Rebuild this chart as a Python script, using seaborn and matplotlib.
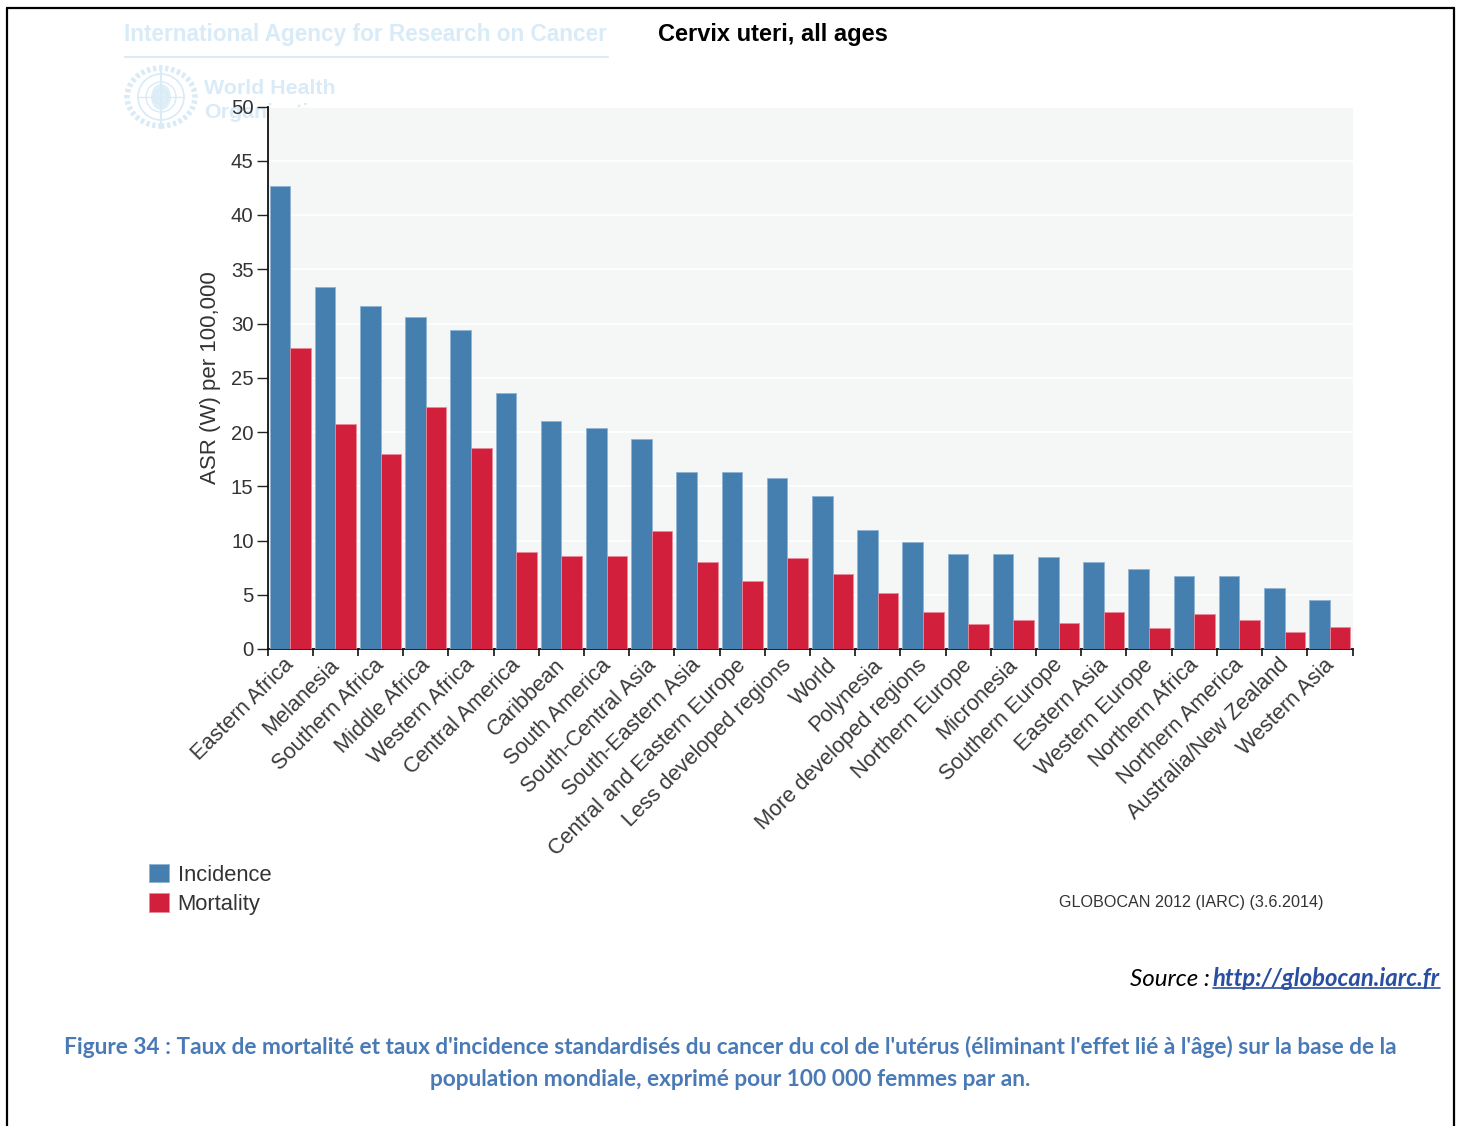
import numpy as np
import pandas as pd
import matplotlib
matplotlib.use("Agg")
import matplotlib.pyplot as plt
from matplotlib.lines import Line2D
from matplotlib.patches import Ellipse, Rectangle
from matplotlib.transforms import ScaledTranslation
import seaborn as sns

regions = ["Eastern Africa", "Melanesia", "Southern Africa", "Middle Africa", "Western Africa",
           "Central America", "Caribbean", "South America", "South-Central Asia", "South-Eastern Asia",
           "Central and Eastern Europe", "Less developed regions", "World", "Polynesia",
           "More developed regions", "Northern Europe", "Micronesia", "Southern Europe", "Eastern Asia",
           "Western Europe", "Northern Africa", "Northern America", "Australia/New Zealand", "Western Asia"]
incidence = [42.7, 33.4, 31.6, 30.6, 29.4, 23.6, 21.0, 20.4, 19.4, 16.3, 16.3, 15.8,
             14.1, 11.0, 9.9, 8.8, 8.8, 8.5, 8.0, 7.4, 6.7, 6.7, 5.6, 4.5]
mortality = [27.7, 20.7, 18.0, 22.3, 18.5, 8.9, 8.6, 8.6, 10.9, 8.0, 6.3, 8.4,
             6.9, 5.2, 3.4, 2.3, 2.7, 2.4, 3.4, 1.9, 3.2, 2.7, 1.6, 2.0]
y_ticks = list(range(0, 55, 5))

W, H = 1460, 1126
BLUE, RED = "#457fb0", "#d21f3c"
PALE = "#d8ebf6"
CAP = "#4a7ab5"

sns.set_theme(style="white")
plt.rcParams["font.family"] = ["Liberation Sans", "DejaVu Sans"]

def fx(x): return x / W
def fy(y): return 1 - y / H

fig = plt.figure(figsize=(W / 100, H / 100), dpi=100, facecolor="white")

# Page frame (open at the bottom)
for xs, ys in [((7, 7), (1126, 8)), ((7, 1454), (8, 8)), ((1454, 1454), (8, 1126))]:
    fig.add_artist(Line2D([fx(v) for v in xs], [fy(v) for v in ys], color="black", lw=1.6))

# Faded watermark header, lying beneath the plot area
fig.text(fx(124), fy(35), "International Agency for Research on Cancer", color=PALE, fontsize=16.3,
         fontweight="bold", va="center", ha="left", zorder=-2)
fig.add_artist(Line2D([fx(125), fx(608)], [fy(57), fy(57)], color=PALE, lw=1.5, zorder=-2))
fig.text(fx(204), fy(88), "World Health", color=PALE, fontsize=15.4, fontweight="bold", va="center", zorder=-2)
fig.text(fx(204), fy(112), "Organization", color=PALE, fontsize=15.4, fontweight="bold", va="center", zorder=-2)
cx, cy = 161, 97
for rx, ry, lw, ls in [(34, 29, 4.0, (0, (0.6, 0.5))), (23, 23, 1.2, "-"), (15, 15, 1.0, "-"), (7, 7, 1.0, "-")]:
    fig.add_artist(Ellipse((fx(cx), fy(cy)), 2 * rx / W, 2 * ry / H, fill=False, ec=PALE, lw=lw, ls=ls,
                           transform=fig.transFigure, zorder=-2))
fig.add_artist(Line2D([fx(cx), fx(cx)], [fy(66), fy(128)], color=PALE, lw=1.5, zorder=-2))
fig.add_artist(Line2D([fx(cx - 23), fx(cx + 23)], [fy(cy), fy(cy)], color=PALE, lw=1, zorder=-2))
fig.add_artist(Ellipse((fx(cx), fy(cy)), 20 / W, 26 / H, fc=PALE, ec="none", alpha=0.8,
                       transform=fig.transFigure, zorder=-2))

fig.text(fx(773), fy(35), "Cervix uteri, all ages", color="black", fontsize=17, fontweight="bold",
         ha="center", va="center")

# Main axes
L, R, T, B = 267.5, 1352.5, 106.5, 649
ax = fig.add_axes([fx(L), fy(B), (R - L) / W, (B - T) / H], facecolor="#f5f7f7")

df = pd.DataFrame({"region": regions * 2,
                   "value": incidence + mortality,
                   "kind": ["Incidence"] * len(regions) + ["Mortality"] * len(regions)})
sns.barplot(data=df, x="region", y="value", hue="kind", order=regions,
            palette={"Incidence": BLUE, "Mortality": RED}, width=0.91, gap=0, saturation=1,
            errorbar=None, ax=ax, legend=False, linewidth=0.6, edgecolor="#b9cfe0", zorder=3)
for c, ec in zip(ax.containers, ["#8fb4d2", "#e88a9a"]):
    for p in c:
        p.set_edgecolor(ec)

ax.set_xlim(-0.5, len(regions) - 0.5)
ax.set_ylim(0, 50)
ax.set_yticks(y_ticks)
ax.yaxis.grid(True, color="white", lw=1.2, zorder=1)
ax.set_axisbelow(True)
ax.tick_params(axis="y", labelsize=14.6, length=8, width=1, color="#222222", pad=2,
               labelcolor="#333333", left=True)
ax.set_ylabel("ASR (W) per 100,000", fontsize=16, color="#333333", labelpad=7)
ax.set_xlabel("")

ax.set_xticks(np.arange(len(regions)))
ax.set_xticklabels(regions, rotation=45, ha="right", va="top", rotation_mode="anchor",
                   fontsize=15.7, color="#3a3a3a")
ax.tick_params(axis="x", which="major", length=0, pad=4, bottom=False)
shift = ScaledTranslation(-6.5 / 100, 0, fig.dpi_scale_trans)
for lab in ax.get_xticklabels():
    lab.set_transform(lab.get_transform() + shift)
ax.set_xticks(np.arange(-0.5, len(regions)), minor=True)
ax.tick_params(axis="x", which="minor", length=5, width=1.2, color="#111111", bottom=True)

sns.despine(ax=ax, top=True, right=True)
for s in ("left", "bottom"):
    ax.spines[s].set_color("#111111")
    ax.spines[s].set_linewidth(1.3)

# Legend
handles = [Rectangle((0, 0), 1, 1, fc=BLUE, ec="#8fb4d2", lw=0.6),
           Rectangle((0, 0), 1, 1, fc=RED, ec="#e88a9a", lw=0.6)]
leg = fig.legend(handles, ["Incidence", "Mortality"], loc="upper left",
                 bbox_to_anchor=(fx(149), fy(864)), bbox_transform=fig.transFigure,
                 frameon=False, fontsize=15.8, borderpad=0, borderaxespad=0,
                 handlelength=0.92, handleheight=0.92, handletextpad=0.38, labelspacing=0.33,
                 labelcolor="#333333")

fig.text(fx(1059), fy(902), "GLOBOCAN 2012 (IARC) (3.6.2014)", fontsize=11.6, color="#333333",
         va="center", ha="left")

# Source line and caption
fam = ["Lato", "Noto Sans", "DejaVu Sans"]
fig.text(fx(1130), fy(979), "Source :", fontsize=17.4, style="italic", color="black", va="center", family=fam)
link = fig.text(fx(1440), fy(979), "http://globocan.iarc.fr", fontsize=17.2, style="italic", fontweight="bold",
                color="#2a4ea0", va="center", ha="right", family=fam)
fig.canvas.draw()
bb = link.get_window_extent()
fig.add_artist(Line2D([bb.x0 / W, bb.x1 / W], [fy(988), fy(988)], color="#2a4ea0", lw=1.2))

fig.text(fx(730.5), fy(1046.5),
         "Figure 34 : Taux de mortalité et taux d'incidence standardisés du cancer du col de l'utérus "
         "(éliminant l'effet lié à l'âge) sur la base de la",
         fontsize=16.25, fontweight="bold", color=CAP, ha="center", va="center", family=fam)
fig.text(fx(730.5), fy(1079.5), "population mondiale, exprimé pour 100 000 femmes par an.",
         fontsize=16.25, fontweight="bold", color=CAP, ha="center", va="center", family=fam)

fig.savefig("out.png", dpi=100, facecolor="white")
